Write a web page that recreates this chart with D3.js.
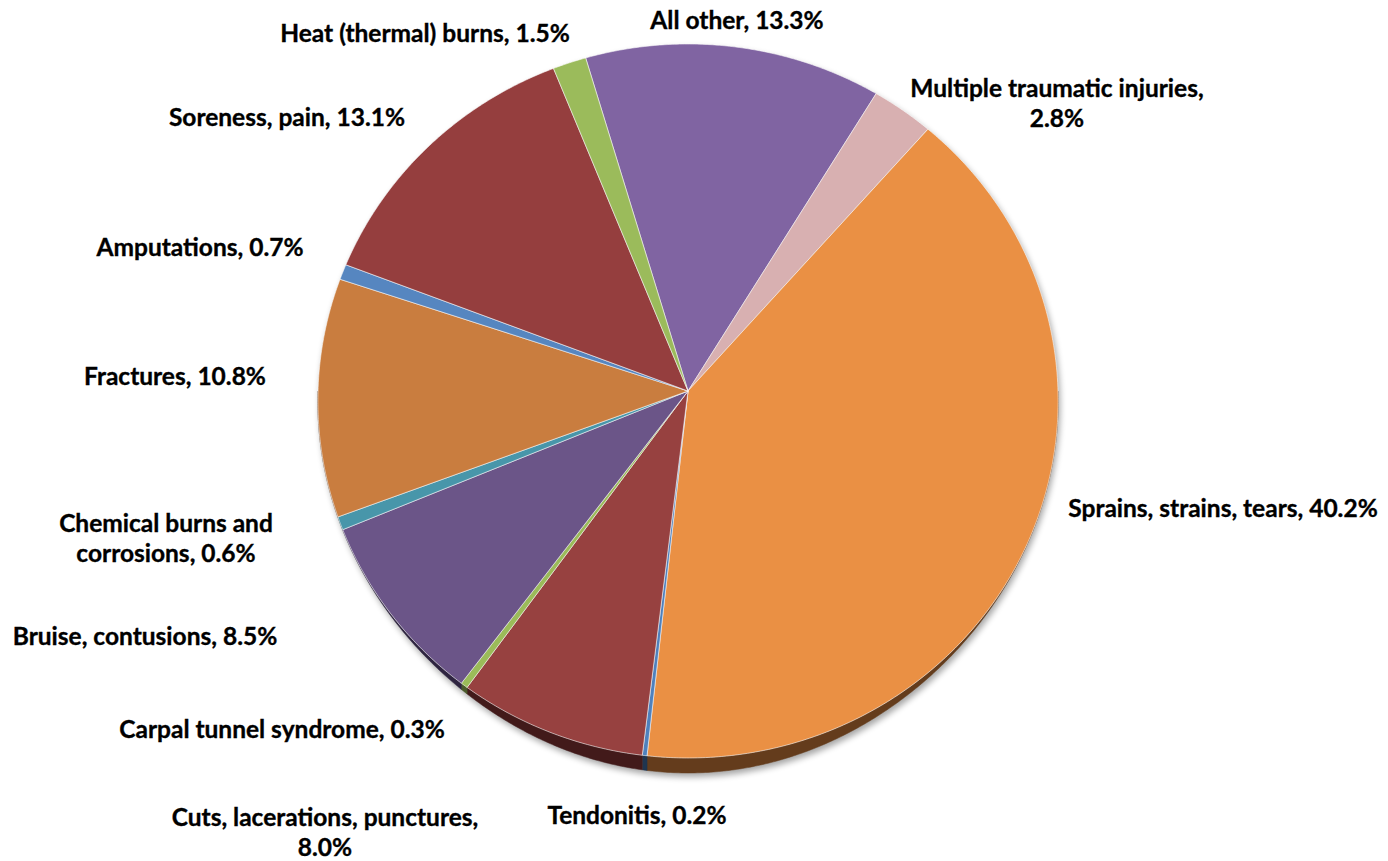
<!DOCTYPE html>
<html>
<head>
<meta charset="utf-8">
<script src="https://cdn.jsdelivr.net/npm/d3@7"></script>
<style>
  html, body { margin: 0; padding: 0; background: #ffffff; }
  svg { display: block; }
  .lbl { font-family: Lato, "Open Sans", sans-serif; font-weight: 700; font-size: 24.5px; fill: #000;
         stroke: #000; stroke-width: 0.35px; }
</style>
</head>
<body>
<svg id="chart" width="1388" height="861"></svg>
<script>
// ---- data ----
const categories = [
  "All other",
  "Multiple traumatic injuries",
  "Sprains, strains, tears",
  "Tendonitis",
  "Cuts, lacerations, punctures",
  "Carpal tunnel syndrome",
  "Bruise, contusions",
  "Chemical burns and corrosions",
  "Fractures",
  "Amputations",
  "Soreness, pain",
  "Heat (thermal) burns"
];
const values = [13.3, 2.8, 40.2, 0.2, 8.0, 0.3, 8.5, 0.6, 10.8, 0.7, 13.1, 1.5];

// ---- styling / layout ----
const faceColors = ["#8064a2", "#d8b0b1", "#ea9044", "#4f81bd", "#974140", "#9bbb59",
                    "#6b5588", "#4896aa", "#c97d3f", "#5686c0", "#953e3e", "#9bbb5b"];
const sideColors = ["#3e2f52", "#6e5556", "#643c1c", "#1f3550", "#421a1a", "#4a5a2a",
                    "#2e2440", "#1f4650", "#5c3518", "#24406a", "#421a1a", "#4a5a2a"];
// label line breaks (text after which the line is broken)
const labelBreakAfter = [null, "injuries,", null, null, "punctures,", null, null, "and", null, null, null, null];
// label anchor positions (centre of text block)
const labelPos = [
  [737, 20], [1057, 103], [1223, 508], [637, 815], [325, 832], [282, 729],
  [145, 636], [166, 538], [175, 376], [200, 247], [287, 117], [425, 33]
];

const svg = d3.select("#chart");
const cx = 688, cy = 391, A = 370, B = 356.7, k = 0.028, depth = 15;
const startDeg = -16.5;

function proj(theta, r) {
  const u = r * Math.sin(theta), v = -r * Math.cos(theta);
  const w = 1 - k * v;
  return [cx + A * u / w, cy + B * v / w];
}
function sideOffset(theta) {
  const c = -Math.cos(theta);
  return c > 0 ? depth * Math.pow(c, 4) : 0;
}

const pie = d3.pie().sort(null).value(d => d)
  .startAngle(startDeg * Math.PI / 180)
  .endAngle(startDeg * Math.PI / 180 + 2 * Math.PI);
const arcs = pie(values);

const line = d3.line().x(d => d[0]).y(d => d[1]);
function sample(a0, a1) {
  const n = Math.max(2, Math.ceil(Math.abs(a1 - a0) / (0.4 * Math.PI / 180)));
  return d3.range(n + 1).map(i => a0 + (a1 - a0) * i / n);
}

// defs
const defs = svg.append("defs");
const f = defs.append("filter").attr("id", "shadow").attr("x", "-10%").attr("y", "-10%")
  .attr("width", "120%").attr("height", "120%");
f.append("feGaussianBlur").attr("stdDeviation", 3);

// shadow silhouette
const full = sample(0, 2 * Math.PI);
svg.append("path")
  .attr("d", line(full.map(t => { const p = proj(t, 1); return [p[0] + 2, p[1] + sideOffset(t) + 4]; })) + "Z")
  .attr("fill", "#000").attr("opacity", 0.35).attr("filter", "url(#shadow)");

// sides (front half only)
const g = svg.append("g");
arcs.forEach((a, i) => {
  const ranges = [];
  [[a.startAngle, a.endAngle], [a.startAngle + 2 * Math.PI, a.endAngle + 2 * Math.PI], [a.startAngle - 2 * Math.PI, a.endAngle - 2 * Math.PI]]
    .forEach(([s, e]) => {
      const l = Math.max(s, Math.PI / 2), h = Math.min(e, 3 * Math.PI / 2);
      if (h > l) ranges.push([l, h]);
    });
  ranges.forEach(([l, h]) => {
    const ts = sample(l, h);
    const top = ts.map(t => proj(t, 1));
    const bot = ts.slice().reverse().map(t => { const p = proj(t, 1); return [p[0], p[1] + sideOffset(t)]; });
    g.append("path").attr("d", line(top.concat(bot)) + "Z")
      .attr("fill", sideColors[i]).attr("stroke", sideColors[i]).attr("stroke-width", 0.5);
  });
});

// faces
arcs.forEach((a, i) => {
  const pts = [proj(0, 0)].concat(sample(a.startAngle, a.endAngle).map(t => proj(t, 1)));
  g.append("path").attr("d", line(pts) + "Z")
    .attr("fill", faceColors[i])
    .attr("stroke", "#ffffff").attr("stroke-opacity", 0.55).attr("stroke-width", 1)
    .attr("stroke-linejoin", "round");
});

// labels
const lg = svg.append("g");
arcs.forEach((a, i) => {
  const txt = categories[i] + ", " + values[i].toFixed(1) + "%";
  let lines = [txt];
  const br = labelBreakAfter[i];
  if (br) {
    const idx = txt.indexOf(br) + br.length;
    lines = [txt.slice(0, idx).trim(), txt.slice(idx).trim()];
  }
  const [x, y] = labelPos[i];
  const lh = 30;
  const t = lg.append("text").attr("class", "lbl").attr("text-anchor", "middle")
    .attr("x", x).attr("y", y - (lines.length - 1) * lh / 2);
  lines.forEach((s, j) => {
    t.append("tspan").attr("x", x).attr("dy", j === 0 ? "0.35em" : lh).text(s);
  });
});
</script>
</body>
</html>
